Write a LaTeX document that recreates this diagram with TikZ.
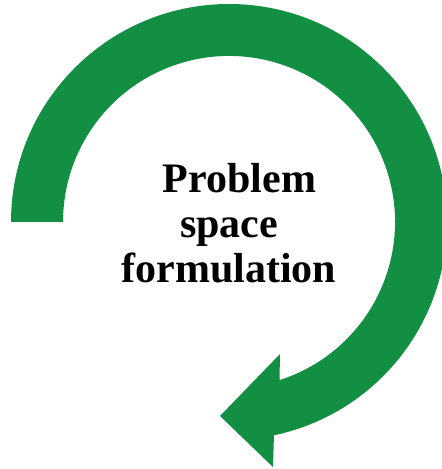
\documentclass[tikz,border=0pt]{standalone}
\usepackage{fontspec}
\setmainfont{Liberation Serif}
\definecolor{arrowgreen}{RGB}{19,143,67}
\begin{document}
\begin{tikzpicture}[x=1pt,y=1pt,
  lbl/.style={anchor=base,inner sep=0pt,font=\fontsize{42}{44}\selectfont\bfseries}]
\useasboundingbox (0,0) rectangle (442,469);
\fill[arrowgreen] (11,247) arc[start angle=180,end angle=-78.1,radius=218]
  -- (273,2) -- (220,53) -- (280,115) -- (279.5,88.9)
  arc[start angle=-72.3,end angle=180,radius=166] -- cycle;
\node[lbl] (l1) at (239.5,276) {Problem};
\node[lbl] (l2) at (229,231) {space};
\node[lbl] (l3) at (229,186) {formulation};
\end{tikzpicture}
\end{document}
